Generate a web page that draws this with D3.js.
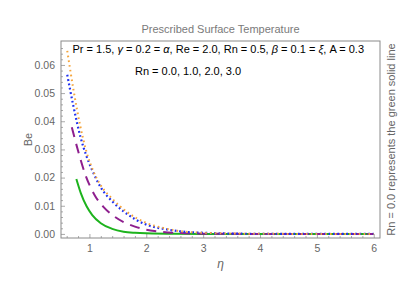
<!DOCTYPE html>
<html>
<head>
<meta charset="utf-8">
<title>Prescribed Surface Temperature</title>
<script src="https://d3js.org/d3.v7.min.js"></script>
<style>
  body { margin: 0; background: #fff; }
  text { font-family: "Liberation Sans", Arial, sans-serif; }
</style>
</head>
<body>
<div id="chart"></div>
<script>
// values
const greenX  = [0.77, 0.85, 0.95, 1.05, 1.2, 1.4, 1.6, 1.8, 2.0, 2.5, 3.0, 4.0, 5.0, 6.0];
const greenY  = [0.0195, 0.0144, 0.0098, 0.0067, 0.0038, 0.0018, 0.0008, 0.0004, 0.0002, 0.00003, 0, 0, 0, 0];
const purpleX = [0.69, 0.8, 0.92, 1.1, 1.25, 1.43, 1.6, 1.8, 2.0, 2.2, 2.6, 3.0, 4.0, 5.0, 6.0];
const purpleY = [0.0379, 0.0295, 0.0215, 0.0135, 0.0095, 0.0063, 0.0042, 0.0026, 0.0015, 0.0009, 0.0003, 0.0001, 0, 0, 0];
const blueX   = [0.61, 0.72, 0.84, 0.95, 1.04, 1.2, 1.42, 1.6, 2.0, 2.36, 2.6, 3.0, 3.5, 4.0, 5.0, 6.0];
const blueY   = [0.0565, 0.0452, 0.0346, 0.0275, 0.0230, 0.0165, 0.0112, 0.0080, 0.0033, 0.0016, 0.0009, 0.0004, 0.00012, 0.00004, 0, 0];
const orangeX = [0.61, 0.72, 0.84, 0.95, 1.07, 1.2, 1.4, 1.66, 2.0, 2.3, 2.55, 3.0, 3.5, 4.0, 5.0, 6.0];
const orangeY = [0.0650, 0.0511, 0.0382, 0.0290, 0.0222, 0.0172, 0.0125, 0.0078, 0.0039, 0.0021, 0.0011, 0.0004, 0.00015, 0.00005, 0, 0];

const xTicks = [1, 2, 3, 4, 5, 6];
const yTicks = [0, 0.01, 0.02, 0.03, 0.04, 0.05, 0.06];

const W = 414, H = 289;
const margin = { top: 41, right: 34, bottom: 51, left: 61 };
const width = W - margin.left - margin.right;
const height = H - margin.top - margin.bottom;

const svg = d3.select("#chart").append("svg")
    .attr("width", W)
    .attr("height", H);

const g = svg.append("g")
    .attr("transform", "translate(" + margin.left + "," + margin.top + ")");

const x = d3.scaleLinear().domain([0.5, 6.11]).range([0, width]);
const y = d3.scaleLinear().domain([-0.00145, 0.0685]).range([height, 0]);

const gray = "#8a8a8a";
const labelGray = "#666";

// ticks (inside the frame, major + minor)
const xMinor = d3.range(0.6, 6.1, 0.2).filter(v => Math.abs(v - Math.round(v)) > 0.01);
const yMinor = d3.range(0, 0.068, 0.002).filter(v => Math.abs(v * 100 - Math.round(v * 100)) > 0.01);

g.append("g")
    .attr("transform", "translate(0," + height + ")")
    .call(d3.axisBottom(x).tickValues(xTicks).tickSize(-4).tickPadding(7).tickFormat(d3.format("d")));
g.append("g")
    .attr("transform", "translate(0," + height + ")")
    .call(d3.axisBottom(x).tickValues(xMinor).tickSize(-2).tickFormat(""));
g.append("g")
    .call(d3.axisLeft(y).tickValues(yTicks).tickSize(-4).tickPadding(6).tickFormat(d3.format(".2f")));
g.append("g")
    .call(d3.axisLeft(y).tickValues(yMinor).tickSize(-2).tickFormat(""));

g.selectAll(".domain").remove();
g.selectAll(".tick line").attr("stroke", "#aaa");
g.selectAll(".tick text").attr("fill", labelGray).style("font-size", "10.5px")
    .style("font-family", "'Liberation Sans', Arial, sans-serif");

// frame
g.append("rect")
    .attr("x", 0).attr("y", 0)
    .attr("width", width).attr("height", height)
    .attr("fill", "none")
    .attr("stroke", gray)
    .attr("stroke-width", 1);

// curves
const line = d3.line()
    .x(d => x(d[0]))
    .y(d => y(d[1]))
    .curve(d3.curveMonotoneX);

const series = [
  { xs: greenX,  ys: greenY,  color: "#1db31d", width: 2,   dash: null },
  { xs: purpleX, ys: purpleY, color: "#8e1f8e", width: 2,   dash: "10,7" },
  { xs: blueX,   ys: blueY,   color: "#1f2ff0", width: 2.2, dash: "1.8,2.6" },
  { xs: orangeX, ys: orangeY, color: "#f5a43a", width: 2,   dash: "1.6,3.2" }
];

series.forEach(s => {
  const pts = s.xs.map((v, i) => [v, s.ys[i]]);
  g.append("path")
      .datum(pts)
      .attr("d", line)
      .attr("fill", "none")
      .attr("stroke", s.color)
      .attr("stroke-width", s.width)
      .attr("stroke-dasharray", s.dash);
});

// title
svg.append("text")
    .attr("x", margin.left + width / 2)
    .attr("y", 33)
    .attr("text-anchor", "middle")
    .attr("fill", "#7a7a7a")
    .style("font-size", "11px")
    .text("Prescribed Surface Temperature");

// annotations inside plot
const ann = svg.append("text")
    .attr("x", 72.5)
    .attr("y", 52.5)
    .attr("fill", "#000")
    .style("font-size", "11px");
ann.append("tspan").text("Pr = 1.5, ");
ann.append("tspan").style("font-style", "italic").text("γ");
ann.append("tspan").text(" = 0.2 = ");
ann.append("tspan").style("font-style", "italic").text("α");
ann.append("tspan").text(", Re = 2.0, Rn = 0.5, ");
ann.append("tspan").style("font-style", "italic").text("β");
ann.append("tspan").text(" = 0.1 = ");
ann.append("tspan").style("font-style", "italic").text("ξ");
ann.append("tspan").text(", A = 0.3");

svg.append("text")
    .attr("x", 135)
    .attr("y", 75)
    .attr("fill", "#000")
    .style("font-size", "11px")
    .text("Rn = 0.0, 1.0, 2.0, 3.0");

// axis labels
svg.append("text")
    .attr("transform", "translate(32," + (margin.top + height / 2) + ") rotate(-90)")
    .attr("text-anchor", "middle")
    .attr("fill", labelGray)
    .style("font-size", "11px")
    .text("Be");

svg.append("text")
    .attr("x", margin.left + width / 2)
    .attr("y", 268)
    .attr("text-anchor", "middle")
    .attr("fill", labelGray)
    .style("font-size", "12px")
    .style("font-style", "italic")
    .text("η");

svg.append("text")
    .attr("transform", "translate(395," + (margin.top + height / 2) + ") rotate(-90)")
    .attr("text-anchor", "middle")
    .attr("fill", labelGray)
    .style("font-size", "11px")
    .text("Rn = 0.0 represents the green solid line");
</script>
</body>
</html>
